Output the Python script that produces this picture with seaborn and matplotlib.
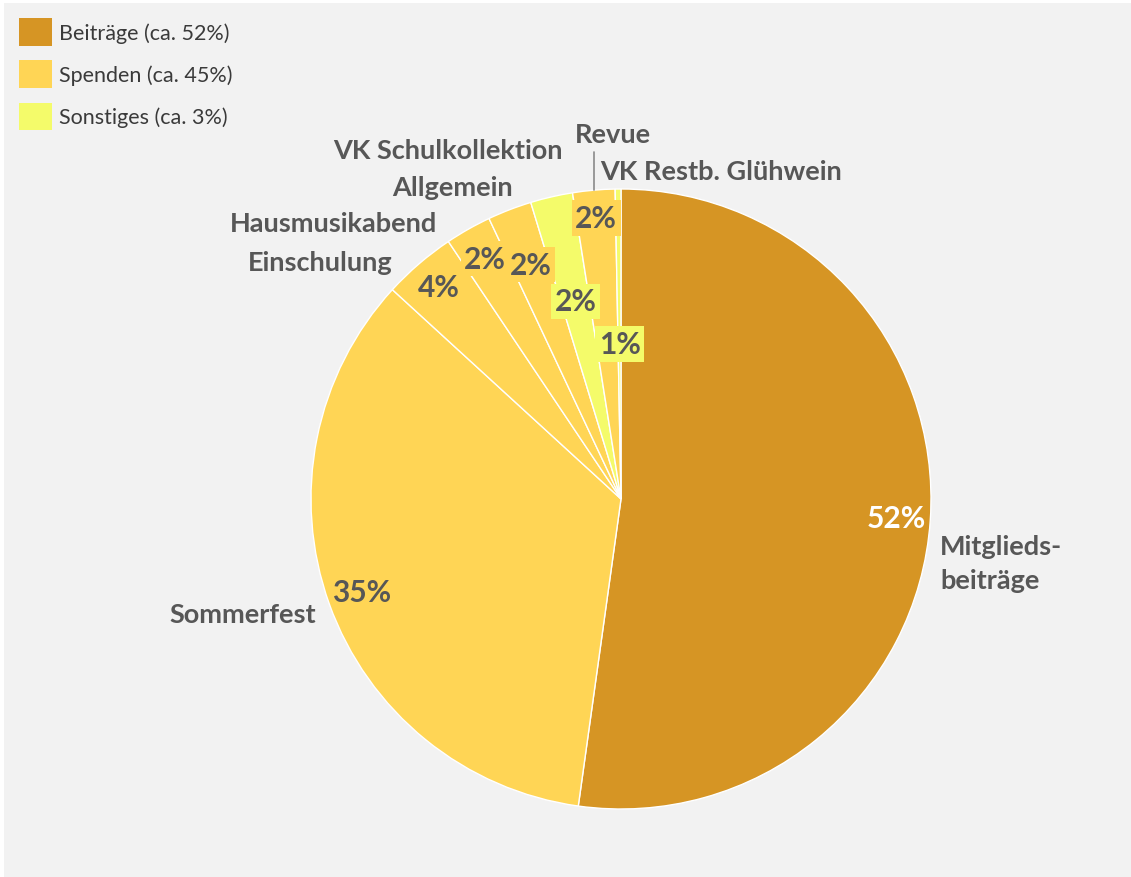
import matplotlib
matplotlib.use("Agg")
import matplotlib.pyplot as plt
import numpy as np
import seaborn as sns
from matplotlib.patches import Patch, Rectangle

# Daten
kategorien = ["Mitglieds-\nbeiträge", "Sommerfest", "Einschulung", "Hausmusikabend",
              "Allgemein", "VK Schulkollektion", "Revue", "VK Restb. Glühwein"]
anteile = [52.2, 34.6, 3.8, 2.4, 2.3, 2.2, 2.2, 0.3]
prozent_labels = ["52%", "35%", "4%", "2%", "2%", "2%", "2%", "1%"]
gruppe = ["Beiträge", "Spenden", "Spenden", "Spenden", "Spenden", "Sonstiges", "Spenden", "Sonstiges"]
legende = ["Beiträge (ca. 52%)", "Spenden (ca. 45%)", "Sonstiges (ca. 3%)"]

farben = {"Beiträge": "#D69524", "Spenden": "#FFD555", "Sonstiges": "#F4FB6A"}
slice_farben = [farben[g] for g in gruppe]

sns.set_theme(style="white")
plt.rcParams["font.family"] = ["Lato", "DejaVu Sans"]

W, H = 1131, 878
fig = plt.figure(figsize=(W / 100, H / 100), dpi=100)
fig.patch.set_facecolor("white")
ax = fig.add_axes([0, 0, 1, 1])

# grauer Hintergrund
ax.add_patch(Rectangle((4, 0), W - 4, H - 4, facecolor="#F2F2F2", edgecolor="none", zorder=0))

cx, cy, R = 621, H - 500, 310
wedges, _ = ax.pie(anteile, colors=slice_farben, startangle=90, counterclock=False,
                   center=(cx, cy), radius=R, frame=True,
                   wedgeprops=dict(edgecolor="white", linewidth=1.0))
ax.set_xlim(0, W)
ax.set_ylim(0, H)
ax.set_aspect("equal")
ax.axis("off")

# Prozentlabels
label_r = [0.89, 0.89, 0.90, 0.89, 0.81, 0.655, 0.91, 0.50]
text_col = "#575757"
for w, txt, r, fc, val in zip(wedges, prozent_labels, label_r, slice_farben, anteile):
    mid = np.deg2rad((w.theta1 + w.theta2) / 2)
    x, y = cx + r * R * np.cos(mid), cy + r * R * np.sin(mid)
    col = "white" if txt == "52%" else text_col
    box = dict(boxstyle="square,pad=0.12", facecolor=fc, edgecolor="none") if val < 5 else None
    ax.text(x, y, txt, ha="center", va="center", fontsize=21.5, color=col,
            fontweight="bold", zorder=5, bbox=box)

# Kategorienlabels (Position in Pixeln, y von oben)
label_pos = [(940, 564, "left"), (316, 615, "right"), (393, 263, "right"),
             (437, 224, "right"), (513, 188, "right"), (563, 151, "right"),
             (575, 135, "left"), (600, 172, "left")]
for name, (x, y, ha) in zip(kategorien, label_pos):
    ax.text(x, H - y, name, ha=ha, va="center", fontsize=19.5, fontweight="bold",
            color=text_col, linespacing=1.5, zorder=5)

# Führungslinie zu "Revue"
w = wedges[6]
mid = np.deg2rad((w.theta1 + w.theta2) / 2)
lx, ly = cx + R * np.cos(mid), cy + R * np.sin(mid)
ax.plot([lx, lx], [ly, H - 153], color="#8a8a8a", linewidth=1.2, zorder=4)

# Legende
handles = [Patch(facecolor=farben[g], edgecolor="none") for g in ["Beiträge", "Spenden", "Sonstiges"]]
leg = fig.legend(handles, legende, loc="upper left", bbox_to_anchor=(19 / W, 1 - 19 / H),
                 frameon=False, fontsize=15.5, handlelength=1.53, handleheight=1.6,
                 handletextpad=0.33, labelspacing=0.68, borderaxespad=0, borderpad=0)
for t in leg.get_texts():
    t.set_color("#3a3a3a")

fig.savefig("out.png", dpi=100)
